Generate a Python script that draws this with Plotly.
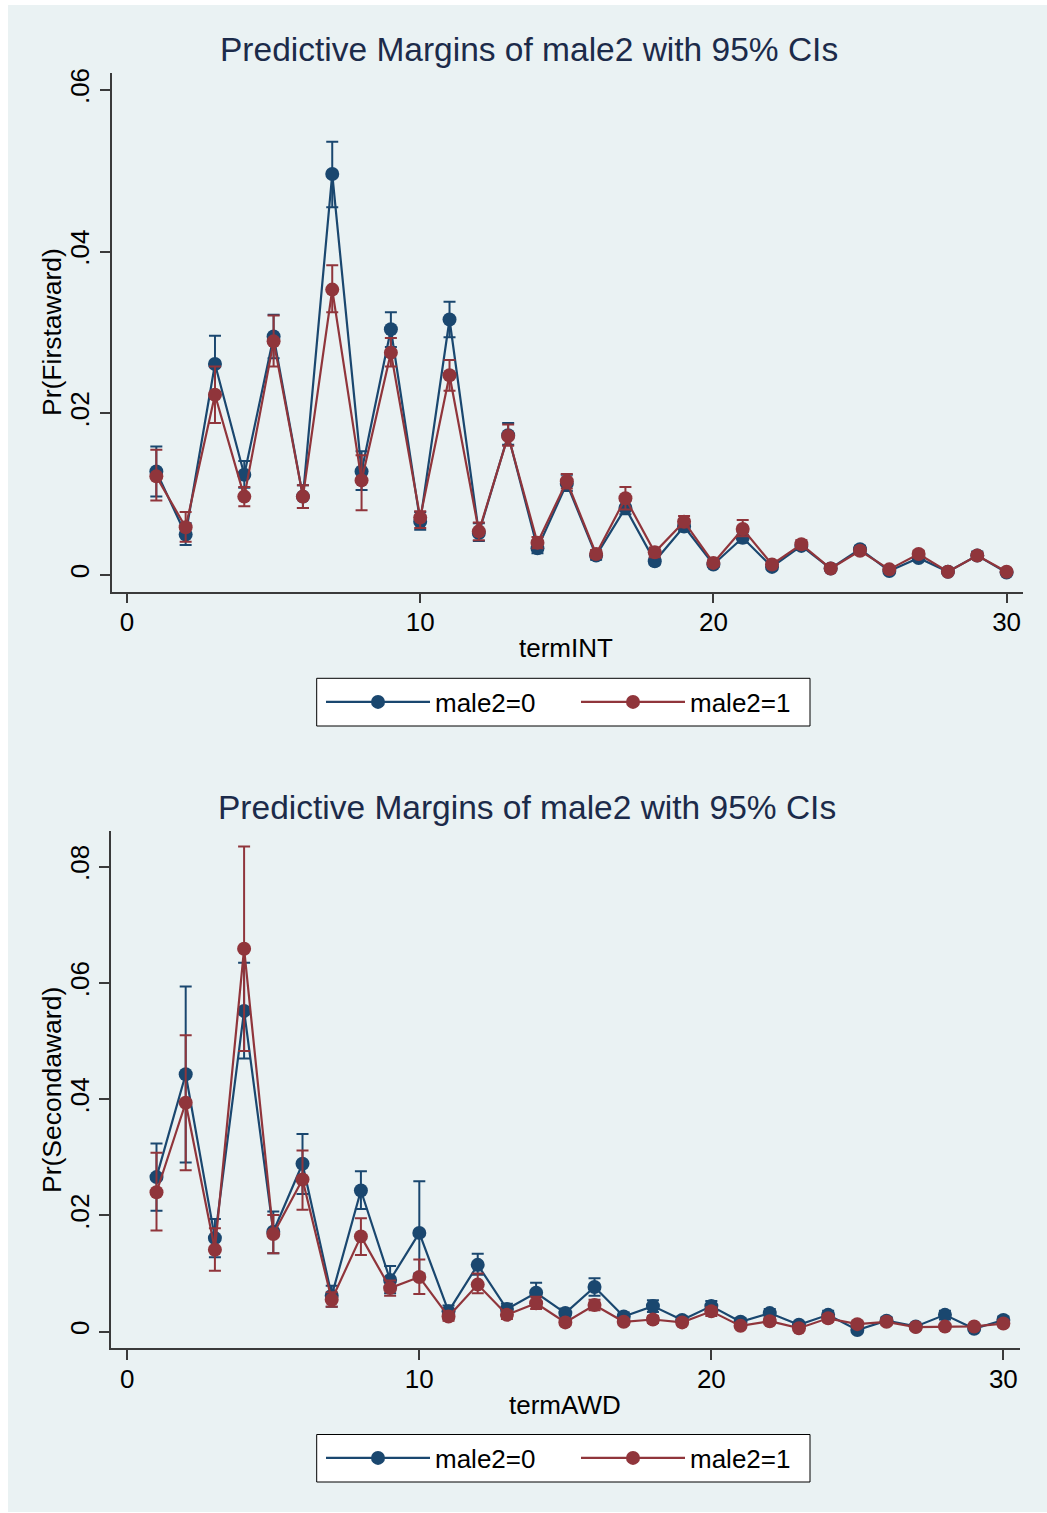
import plotly.graph_objects as go

W, H = 1047, 1513

# ---------------- data ----------------
term = list(range(1, 31))

# Panel 1: Pr(Firstaward) by termINT
first_m0 = [0.0128, 0.0050, 0.0261, 0.0124, 0.0295, 0.0097, 0.0496, 0.0128, 0.0304, 0.0066,
            0.0316, 0.0052, 0.0173, 0.0033, 0.0113, 0.0024, 0.0083, 0.0017, 0.0060, 0.0013,
            0.0046, 0.0010, 0.0036, 0.0008, 0.0032, 0.0005, 0.0021, 0.0004, 0.0024, 0.0003]
first_m0_lo = [0.0097, 0.0037, 0.0226, 0.0108, 0.0268, 0.0083, 0.0455, 0.0105, 0.0282, 0.0056,
               0.0294, 0.0042, 0.0161, 0.0027, 0.0104, 0.0019, 0.0075, 0.0013, 0.0054, 0.0010,
               0.0040, 0.0008, 0.0031, 0.0006, 0.0028, 0.0003, 0.0018, 0.0002, 0.0020, 0.0002]
first_m0_hi = [0.0159, 0.0064, 0.0296, 0.0141, 0.0322, 0.0111, 0.0536, 0.0153, 0.0325, 0.0078,
               0.0338, 0.0064, 0.0188, 0.0040, 0.0124, 0.0029, 0.0092, 0.0021, 0.0067, 0.0016,
               0.0053, 0.0013, 0.0041, 0.0011, 0.0036, 0.0007, 0.0025, 0.0006, 0.0029, 0.0005]
first_m1 = [0.0122, 0.0059, 0.0223, 0.0097, 0.0289, 0.0097, 0.0353, 0.0117, 0.0275, 0.0071,
            0.0247, 0.0054, 0.0172, 0.0040, 0.0116, 0.0026, 0.0095, 0.0028, 0.0066, 0.0015,
            0.0057, 0.0013, 0.0038, 0.0008, 0.0030, 0.0007, 0.0026, 0.0004, 0.0024, 0.0004]
first_m1_lo = [0.0092, 0.0041, 0.0188, 0.0085, 0.0258, 0.0083, 0.0325, 0.0080, 0.0258, 0.0058,
               0.0228, 0.0043, 0.0160, 0.0033, 0.0107, 0.0021, 0.0081, 0.0022, 0.0059, 0.0011,
               0.0048, 0.0010, 0.0033, 0.0006, 0.0026, 0.0005, 0.0022, 0.0002, 0.0021, 0.0002]
first_m1_hi = [0.0155, 0.0078, 0.0258, 0.0109, 0.0321, 0.0111, 0.0383, 0.0148, 0.0293, 0.0079,
               0.0266, 0.0065, 0.0186, 0.0047, 0.0125, 0.0031, 0.0109, 0.0034, 0.0073, 0.0019,
               0.0068, 0.0016, 0.0043, 0.0011, 0.0034, 0.0010, 0.0030, 0.0006, 0.0028, 0.0006]

# Panel 2: Pr(Secondaward) by termAWD
second_m0 = [0.0266, 0.0443, 0.0161, 0.0552, 0.0172, 0.0289, 0.0062, 0.0243, 0.0089, 0.0170,
             0.0035, 0.0115, 0.0039, 0.0067, 0.0032, 0.0077, 0.0026, 0.0044, 0.0020, 0.0044,
             0.0017, 0.0032, 0.0012, 0.0029, 0.0003, 0.0019, 0.0009, 0.0029, 0.0005, 0.0020]
second_m0_lo = [0.0208, 0.0291, 0.0128, 0.0470, 0.0135, 0.0237, 0.0043, 0.0211, 0.0066, 0.0100,
                0.0022, 0.0098, 0.0030, 0.0051, 0.0023, 0.0062, 0.0018, 0.0034, 0.0014, 0.0034,
                0.0011, 0.0024, 0.0007, 0.0021, 0.0001, 0.0013, 0.0005, 0.0021, 0.0002, 0.0014]
second_m0_hi = [0.0324, 0.0594, 0.0194, 0.0635, 0.0207, 0.0340, 0.0079, 0.0276, 0.0113, 0.0259,
                0.0045, 0.0134, 0.0048, 0.0084, 0.0040, 0.0092, 0.0033, 0.0054, 0.0026, 0.0053,
                0.0023, 0.0039, 0.0016, 0.0036, 0.0006, 0.0025, 0.0013, 0.0036, 0.0008, 0.0026]
second_m1 = [0.0240, 0.0394, 0.0141, 0.0659, 0.0168, 0.0262, 0.0055, 0.0164, 0.0075, 0.0094,
             0.0026, 0.0081, 0.0029, 0.0049, 0.0016, 0.0046, 0.0017, 0.0021, 0.0016, 0.0035,
             0.0010, 0.0018, 0.0006, 0.0023, 0.0013, 0.0017, 0.0008, 0.0009, 0.0009, 0.0014]
second_m1_lo = [0.0174, 0.0278, 0.0105, 0.0483, 0.0135, 0.0210, 0.0043, 0.0132, 0.0062, 0.0065,
                0.0019, 0.0066, 0.0022, 0.0039, 0.0011, 0.0037, 0.0012, 0.0015, 0.0011, 0.0027,
                0.0006, 0.0013, 0.0003, 0.0017, 0.0008, 0.0012, 0.0004, 0.0005, 0.0005, 0.0009]
second_m1_hi = [0.0308, 0.0510, 0.0178, 0.0835, 0.0201, 0.0312, 0.0068, 0.0195, 0.0088, 0.0124,
                0.0033, 0.0100, 0.0036, 0.0060, 0.0021, 0.0055, 0.0022, 0.0027, 0.0021, 0.0042,
                0.0014, 0.0024, 0.0009, 0.0029, 0.0018, 0.0023, 0.0011, 0.0013, 0.0013, 0.0020]

x_tickvals = [0, 10, 20, 30]
x_ticktext = ["0", "10", "20", "30"]
y1_tickvals = [0, 0.02, 0.04, 0.06]
y1_ticktext = ["0", ".02", ".04", ".06"]
y2_tickvals = [0, 0.02, 0.04, 0.06, 0.08]
y2_ticktext = ["0", ".02", ".04", ".06", ".08"]

series_names = ["male2=0", "male2=1"]
title_text = "Predictive Margins of male2 with 95% CIs"

# ---------------- style ----------------
BLUE = "#1a476f"
RED = "#90353b"
BG = "#eaf2f3"
TITLE_C = "#1c2b4a"
FONT = "Liberation Sans, Arial, sans-serif"


def px_x(p):
    return p / W


def px_y(p):
    return 1 - p / H


fig = go.Figure()


def add_series(xa, ya, y, lo, hi, color, name, legend):
    fig.add_trace(go.Scatter(
        x=term, y=y, xaxis=xa, yaxis=ya, name=name, legend=legend,
        mode="lines+markers",
        line=dict(color=color, width=2.2),
        marker=dict(color=color, size=14),
        error_y=dict(type="data", symmetric=False,
                     array=[h - v for h, v in zip(hi, y)],
                     arrayminus=[v - l for v, l in zip(y, lo)],
                     color=color, thickness=2, width=6),
    ))


add_series("x", "y", first_m0, first_m0_lo, first_m0_hi, BLUE, series_names[0], "legend")
add_series("x", "y", first_m1, first_m1_lo, first_m1_hi, RED, series_names[1], "legend")
add_series("x2", "y2", second_m0, second_m0_lo, second_m0_hi, BLUE, series_names[0], "legend2")
add_series("x2", "y2", second_m1, second_m1_lo, second_m1_hi, RED, series_names[1], "legend2")

axis_common = dict(showline=True, linecolor="#3a3a3a", linewidth=1.5,
                   ticks="outside", ticklen=10, tickwidth=1.5, tickcolor="#3a3a3a",
                   tickfont=dict(family=FONT, size=26, color="black"),
                   zeroline=False, mirror=False, automargin=False)

legend_common = dict(orientation="h", xanchor="left", yanchor="middle",
                     bgcolor="rgba(0,0,0,0)", borderwidth=0,
                     font=dict(family=FONT, size=26, color="black"),
                     itemwidth=104, entrywidth=136, entrywidthmode="pixels",
                     itemclick=False, itemdoubleclick=False)

# legend frames (pixel boxes) drawn as shapes
legend_boxes = [(316.7, 678.3, 810, 726), (316.7, 1434.5, 810, 1482)]
shapes = [dict(type="rect", xref="paper", yref="paper", layer="below",
               x0=px_x(8), x1=1, y0=px_y(1512), y1=px_y(5),
               fillcolor=BG, line=dict(width=0))]
for (bx0, by0, bx1, by1) in legend_boxes:
    shapes.append(dict(type="rect", xref="paper", yref="paper", layer="above",
                       x0=px_x(bx0), x1=px_x(bx1), y0=px_y(by1), y1=px_y(by0),
                       fillcolor="white", line=dict(color="black", width=1)))

fig.update_layout(
    width=W, height=H, autosize=False,
    margin=dict(l=0, r=0, t=0, b=0, autoexpand=False),
    paper_bgcolor="white", plot_bgcolor="white",
    font=dict(family=FONT),
    showlegend=True,
    xaxis=dict(domain=[px_x(111.5), px_x(1023)], anchor="y", range=[-0.529, 30.56],
               tickvals=x_tickvals, ticktext=x_ticktext, showgrid=False,
               ticklabelstandoff=-3, **axis_common),
    yaxis=dict(domain=[px_y(591.5), px_y(73)], anchor="x", range=[-0.00204, 0.06209],
               tickvals=y1_tickvals, ticktext=y1_ticktext, tickangle=-90,
               showgrid=True, gridcolor=BG, gridwidth=1.5, **axis_common),
    xaxis2=dict(domain=[px_x(111), px_x(1020)], anchor="y2", range=[-0.558, 30.57],
                tickvals=x_tickvals, ticktext=x_ticktext, showgrid=False,
                ticklabelstandoff=-3, **axis_common),
    yaxis2=dict(domain=[px_y(1348.3), px_y(831)], anchor="x2", range=[-0.00286, 0.08616],
                tickvals=y2_tickvals, ticktext=y2_ticktext, tickangle=-90,
                showgrid=True, gridcolor=BG, gridwidth=1.5, **axis_common),
    legend=dict(x=px_x(321), y=px_y(702), **legend_common),
    legend2=dict(x=px_x(321), y=px_y(1458), **legend_common),
    shapes=shapes,
)

annots = [
    dict(text=title_text, x=px_x(529), y=px_y(49.5), size=33.5, color=TITLE_C, angle=0),
    dict(text=title_text, x=px_x(527), y=px_y(807.5), size=33.5, color=TITLE_C, angle=0),
    dict(text="termINT", x=px_x(566), y=px_y(648), size=26, color="black", angle=0),
    dict(text="termAWD", x=px_x(565), y=px_y(1405), size=26, color="black", angle=0),
    dict(text="Pr(Firstaward)", x=px_x(52), y=px_y(332), size=26.5, color="black", angle=-90),
    dict(text="Pr(Secondaward)", x=px_x(52), y=px_y(1090), size=26.5, color="black", angle=-90),
]
for a in annots:
    fig.add_annotation(text=a["text"], x=a["x"], y=a["y"], xref="paper", yref="paper",
                       xanchor="center", yanchor="middle", showarrow=False,
                       textangle=a["angle"],
                       font=dict(family=FONT, size=a["size"], color=a["color"]))

fig.write_html("out.html")
